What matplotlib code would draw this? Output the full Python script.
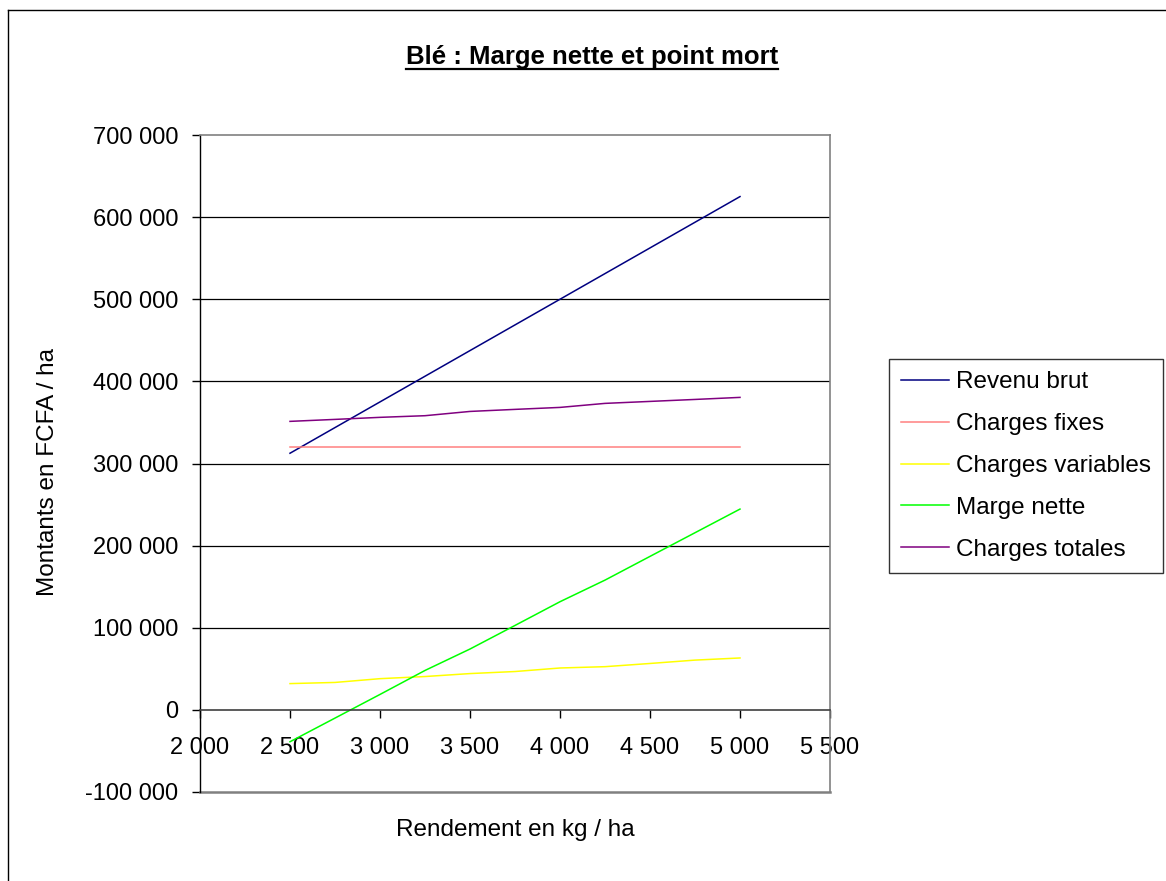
import matplotlib
matplotlib.use("Agg")
import matplotlib.pyplot as plt
from matplotlib.lines import Line2D
from matplotlib.ticker import FuncFormatter, MultipleLocator

plt.rcParams['font.family'] = ['Liberation Sans', 'DejaVu Sans']

# ---- data ----
rendement = [2500, 2750, 3000, 3250, 3500, 3750, 4000, 4250, 4500, 4750, 5000]
revenu_brut = [312500, 343750, 375000, 406250, 437500, 468750, 500000, 531250, 562500, 593750, 625000]
charges_fixes = [320000, 320000, 320000, 320000, 320000, 320000, 320000, 320000, 320000, 320000, 320000]
charges_variables = [32000, 33400, 38000, 40600, 44200, 46700, 51000, 52600, 56500, 60600, 63200]
marge_nette = [-38800, -10000, 18800, 48000, 74100, 102800, 131700, 158000, 186900, 215700, 244500]
charges_totales = [351300, 353700, 356200, 358200, 363400, 365900, 368300, 373200, 375600, 378000, 380500]

series_names = ["Revenu brut", "Charges fixes", "Charges variables", "Marge nette", "Charges totales"]
series_colors = ["#000080", "#FF8080", "#FFFF00", "#00FF00", "#800080"]

title = "Blé : Marge nette et point mort"
xlabel = "Rendement en kg / ha"
ylabel = "Montants en FCFA / ha"

W, H = 1166, 881
fig = plt.figure(figsize=(W / 100, H / 100), dpi=100)

def fx(px):
    return px / W

def fy(py):
    return 1 - py / H

left, right, top, bottom = 200, 830, 135, 792
ax = fig.add_axes([fx(left), fy(bottom), fx(right - left), fy(top) - fy(bottom)])

values = [revenu_brut, charges_fixes, charges_variables, marge_nette, charges_totales]
for name, col, vals in zip(series_names, series_colors, values):
    ax.plot(rendement, vals, color=col, lw=1.1, label=name, solid_joinstyle='round')

ax.set_xlim(2000, 5500)
ax.set_ylim(-100000, 700000)
ax.xaxis.set_major_locator(MultipleLocator(500))
ax.yaxis.set_major_locator(MultipleLocator(100000))

fmt = FuncFormatter(lambda v, p: f"{int(round(v)):,}".replace(",", " "))
ax.xaxis.set_major_formatter(fmt)
ax.yaxis.set_major_formatter(fmt)

# gridlines
for yv in range(100000, 700000, 100000):
    ax.axhline(yv, color="black", lw=0.9, zorder=0.5)

# spines
ax.spines['left'].set_color('black')
ax.spines['left'].set_linewidth(1.0)
ax.spines['top'].set_color('#808080')
ax.spines['right'].set_color('#808080')
ax.spines['top'].set_linewidth(1.2)
ax.spines['right'].set_linewidth(1.2)
ax.spines['bottom'].set_position(('data', 0))
ax.spines['bottom'].set_color('#404040')
ax.spines['bottom'].set_linewidth(1.2)
ax.axhline(-100000, color='#808080', lw=1.8, clip_on=False)

ax.tick_params(axis='both', direction='out', length=5.5, width=1.0, colors='black',
               labelsize=17, pad=10)
ax.tick_params(axis='x', pad=14)

fig.text(fx(592), fy(64), title, ha='center', va='baseline', fontsize=18.5, fontweight='bold')
fig.text(fx(515), fy(836), xlabel, ha='center', va='baseline', fontsize=17.5)
fig.text(fx(48), fy(472), ylabel, ha='center', va='center', rotation=90, fontsize=17.5)

leg = fig.legend(loc='upper left', bbox_to_anchor=(fx(889), fy(359)), borderaxespad=0,
                 fontsize=17.5, frameon=True, fancybox=False, edgecolor='black',
                 handlelength=1.95, handletextpad=0.3, labelspacing=0.82, borderpad=0.5)
leg.get_frame().set_linewidth(1.0)

# outer chart border
fig.add_artist(Line2D([fx(8), fx(8)], [fy(10), 0], color='black', lw=1.0, transform=fig.transFigure))
fig.add_artist(Line2D([fx(8), 1], [fy(10), fy(10)], color='black', lw=1.0, transform=fig.transFigure))

# underline title
fig.canvas.draw()
r = fig.canvas.get_renderer()
t = [tt for tt in fig.texts if tt.get_text() == title][0]
bb = t.get_window_extent(renderer=r)
fig.add_artist(Line2D([bb.x0 / W, bb.x1 / W], [fy(69), fy(69)], color='black', lw=1.6,
                      transform=fig.transFigure))

fig.savefig("out.png", dpi=100)
